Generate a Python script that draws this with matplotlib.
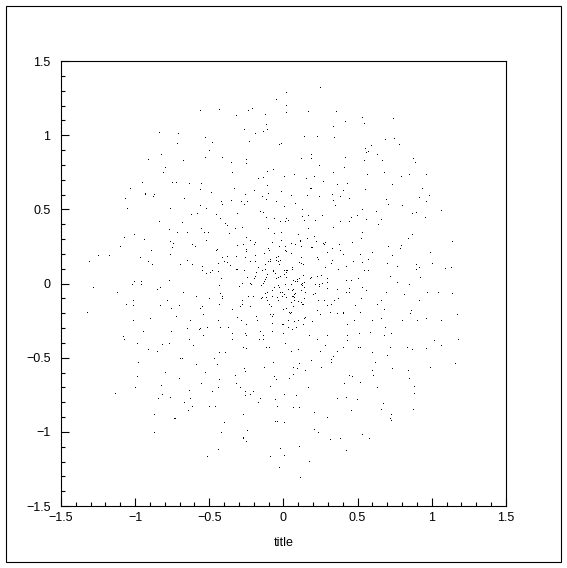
import matplotlib
matplotlib.use("Agg")
import matplotlib.pyplot as plt
from matplotlib.patches import Rectangle
from matplotlib.ticker import FuncFormatter, MultipleLocator

# points, one pair of lists per quadrant
x_upper_left = [-.048,-.561,-.433,-.237,-.210,-.318,-.123,-.116,-.109,-.136,-.264,-.190,-.838,-.710,-.527,-.480,-.716,-.231,-.028,-.015,
    -.500,-.824,-.912,-.676,-.527,-.413,-.352,-.251,-.251,-.797,-.811,-.345,-.109,-.069,-.170,-.136,-.952,-.748,-.723,-.635,
    -.554,-1.033,-.561,-.332,-.197,-.109,-.015,-.487,-.932,-.932,-.871,-.878,-.258,-.102,-.143,-1.067,-.669,-.116,-.352,-.419,
    -.413,-.284,-.244,-.264,-.048,-1.054,-.764,-.561,-.521,-.156,-.136,-.622,-.581,-.453,-.311,-.116,-.062,-.426,-.838,-.683,
    -.021,-.392,-.379,-.554,-.325,-.278,-.102,-.770,-.716,-.649,-.534,-.507,-.365,-.062,-.015,-1.006,-1.074,-.251,-.939,-.224,
    -.521,-.764,-.743,-.190,-.197,-.015,-.075,-.615,-.595,-.311,-.271,-.028,-1.101,-.750,-.892,-.453,-.446,-.251,-.251,-.102,
    -.096,-.129,-.764,-1.249,-1.175,-.966,-.413,-.379,-.318,-.258,-.190,-.048,-.035,-.649,-.399,-.379,-.224,-.190,-.102,-.089,
    -.089,-.048,-.035,-.021,-1.310,-.912,-.885,-.696,-.615,-.440,-.359,-.123,-.028,-.548,-.318,-.311,-.170,-.548,-.480,-.440,
    -.264,-.143,-.123,-.069,-.069,-.521,-.494,-.183,-.109,-.055,-.021,-.035,-.048,-.190,-.197,-.244,-.419,-1.006,-.959,-.770,
    -.129,-.123,-.116]
y_upper_left = [1.236,1.162,1.168,1.162,1.175,1.128,1.135,1.067,1.033,1.020,1.033,1.006,1.013,1.006,.979,.946,.939,.952,.932,.939,
    .892,.865,.831,.824,.844,.844,.811,.831,.804,.777,.743,.743,.750,.764,.703,.710,.676,.676,.676,.669,
    .669,.635,.629,.635,.622,.656,.615,.608,.602,.595,.595,.581,.595,.602,.581,.568,.568,.561,.554,.548,
    .527,.548,.548,.527,.548,.500,.500,.521,.500,.480,.473,.460,.467,.460,.467,.440,.433,.433,.413,.406,
    .413,.399,.386,.365,.365,.372,.365,.359,.338,.338,.338,.338,.332,.332,.338,.325,.305,.305,.291,.284,
    .284,.278,.264,.271,.258,.284,.271,.258,.244,.251,.258,.244,.244,.237,.217,.217,.224,.224,.210,.231,
    .217,.197,.190,.183,.183,.170,.170,.177,.177,.170,.183,.170,.177,.150,.143,.136,.143,.143,.143,.156,
    .143,.150,.143,.150,.143,.143,.123,.123,.123,.129,.116,.123,.123,.109,.089,.089,.102,.082,.082,.075,
    .082,.082,.089,.082,.075,.062,.069,.069,.055,.062,.042,.035,.028,.042,.028,.035,.028,.008,.008,.015,
    .008,.021,.035]

x_upper_right = [.249,.019,.019,.019,.168,.356,.532,.741,.417,.545,.336,.141,.228,.343,.687,.748,.781,.593,.552,.572,
    .559,.633,.188,.188,.120,.417,.545,.667,.876,.889,.242,.410,.336,.566,.680,.795,.849,.964,.006,.073,
    .154,.208,.269,.363,.431,.734,.181,.188,.404,.552,.937,.329,.053,.161,.242,.383,.444,.336,.694,.916,
    .984,.964,.080,.350,.707,.802,.006,.127,.532,.626,.869,.896,1.065,.262,.127,.168,.498,.458,.559,.660,
    .957,.019,.012,.033,.141,.215,.383,.444,.640,.336,.168,.532,.100,.869,.208,.161,.525,.842,.114,.114,
    .222,.053,.080,.269,.282,.275,.464,1.139,.377,.120,.188,.195,.012,.329,.707,.795,.788,.012,.019,.053,
    .383,.296,.404,.599,.991,.518,.734,.120,.228,.235,.572,.329,.323,.471,.532,.107,.120,.134,.701,1.004,
    .896,.282,.424,.768,.916,.896,1.132,1.092,.060,.060,.370,.545,.572,.006,.019,.026,.019,.006,.019,.721,
    .923,.134,.228,.188,.181,.255,.296,.107,.093,.066,.080,.093,.424,.458,.505]
y_upper_right = [1.317,1.283,1.195,1.148,1.155,1.155,1.114,1.108,1.087,1.074,1.054,.986,.986,.979,.966,.973,.932,.925,.905,.885,
    .878,.865,.865,.838,.838,.844,.824,.824,.838,.811,.790,.777,.743,.730,.743,.716,.730,.730,.716,.730,
    .703,.716,.683,.662,.669,.662,.635,.635,.622,.629,.635,.595,.588,.588,.581,.581,.568,.554,.561,.575,
    .588,.548,.534,.521,.527,.521,.514,.494,.494,.480,.467,.473,.487,.453,.446,.453,.453,.440,.426,.426,
    .440,.433,.413,.419,.419,.419,.413,.413,.392,.372,.365,.338,.325,.325,.311,.298,.298,.298,.284,.278,
    .278,.264,.258,.264,.271,.258,.271,.278,.258,.244,.237,.237,.244,.231,.244,.251,.231,.217,.210,.197,
    .217,.204,.190,.204,.204,.190,.183,.170,.170,.156,.156,.150,.129,.143,.136,.136,.129,.123,.129,.129,
    .123,.102,.109,.109,.102,.089,.102,.096,.102,.089,.089,.082,.082,.082,.082,.082,.069,.055,.035,.042,
    .035,.048,.042,.035,.028,.048,.028,.028,.021,.015,.008,.008,.015,.015,.028]

x_lower_left = [-.433,-1.020,-.959,-1.283,-.851,-.831,-.676,-1.121,-.298,-.278,-.224,-.217,-.150,-.136,-.062,-.035,-.028,-.075,-.021,-.008,
    -.109,-.123,-.426,-.413,-.413,-.588,-.500,-.237,-.204,-.784,-1.013,-.278,-.278,-.143,-.150,-.116,-.109,-.075,-.042,-.035,
    -.008,-.433,-1.060,-1.013,-.831,-.703,-.757,-.561,-.548,-.291,-.224,-.096,-.082,-1.323,-.345,-.541,-.723,-.089,-.069,-.075,
    -.183,-.311,-.898,-1.013,-.177,-.440,-.284,-.629,-.075,-.008,-.251,-.426,-.514,-.372,-.649,-.561,-.568,-.156,-.075,-.757,
    -.946,-.345,-.258,-.251,-.541,-1.081,-.136,-1.074,-.635,-.345,-.136,-.163,-.986,-.770,-.817,-.608,-.271,-.116,-.096,-.251,
    -.912,-.851,-.433,-.392,-.696,-.683,-.467,-.979,-.069,-.588,-.446,-.129,-.264,-.258,-.797,-.527,-.325,-.986,-.062,-.703,
    -.048,-.433,-.554,-.318,-.824,-1.000,-.440,-.089,-.291,-.635,-.258,-.204,-.480,-.224,-1.135,-.817,-.258,-.764,-.844,-.629,
    -.156,-.055,-.669,-.170,-.615,-.500,-.460,-.042,-.642,-.871,-.271,-.736,-.730,-.399,-.055,-.042,-.244,-.871,-.419,-.271,
    -.271,-.251,-.440,-.021,-.514,-.089,-.028]
y_lower_left = [-.019,-.012,-.012,-.033,-.046,-.033,-.060,-.066,-.026,-.006,-.001,-.012,-.019,-.001,-.033,-.019,-.033,-.053,-.060,-.060,
    -.066,-.073,-.073,-.093,-.107,-.093,-.107,-.087,-.087,-.114,-.114,-.120,-.141,-.100,-.107,-.100,-.114,-.093,-.100,-.114,
    -.093,-.141,-.147,-.154,-.154,-.154,-.168,-.174,-.161,-.161,-.161,-.147,-.161,-.195,-.181,-.215,-.222,-.215,-.215,-.228,
    -.228,-.235,-.242,-.249,-.249,-.249,-.255,-.255,-.275,-.282,-.282,-.296,-.302,-.302,-.309,-.309,-.316,-.323,-.329,-.329,
    -.329,-.343,-.343,-.350,-.350,-.363,-.356,-.383,-.377,-.377,-.377,-.383,-.410,-.410,-.417,-.424,-.431,-.431,-.431,-.444,
    -.451,-.458,-.471,-.471,-.505,-.505,-.505,-.532,-.532,-.552,-.552,-.572,-.579,-.593,-.606,-.606,-.620,-.633,-.633,-.640,
    -.647,-.653,-.674,-.674,-.687,-.701,-.701,-.694,-.707,-.721,-.728,-.728,-.734,-.748,-.741,-.748,-.761,-.768,-.775,-.775,
    -.775,-.788,-.808,-.808,-.835,-.835,-.829,-.829,-.856,-.883,-.883,-.910,-.916,-.937,-.930,-.930,-.991,-1.004,-1.004,-1.038,
    -1.045,-1.065,-1.119,-1.112,-1.166,-1.166,-1.240]

x_lower_right = [.768,.849,.532,.559,.444,.444,.424,.363,.296,.296,.262,.242,.242,.215,.141,.127,.120,.127,.053,.012,
    .141,.033,.066,.060,.120,.147,.201,.215,.694,.970,1.045,1.139,.815,.080,.073,.060,.066,.073,.006,.019,
    .525,.370,.343,.275,.235,.141,.916,.660,.633,.073,.053,.100,.120,.127,.134,.323,.296,.485,.066,.019,
    -.001,.680,.039,.053,.046,.228,.518,.316,.363,.404,.404,.249,.862,.856,1.173,.660,.478,.147,.141,.100,
    .033,.073,.195,.599,.802,.903,.964,1.065,.134,-.001,.431,.033,.060,.087,.687,-.001,.174,.296,.431,.512,
    .586,.680,.728,.228,.431,1.180,1.018,.012,.282,.404,.505,.518,.721,.835,.869,.964,1.065,.100,.053,.249,
    .363,.599,.336,.701,.323,.323,.188,.107,.620,1.159,.066,.093,.255,.147,.599,.734,.842,.991,.066,.606,
    .444,.464,.039,.849,.518,.410,.883,.168,.633,.883,.006,.087,.424,.363,.498,.674,.066,.107,.660,.876,
    .458,.208,.728,.721,.296,.728,.006,.208,.235,.532,.316,.383,.579,.107,.424,.006,.174,.114]
y_lower_right = [.001,-.012,-.033,-.053,-.039,-.066,-.060,-.046,-.039,.001,-.006,-.012,-.026,-.012,.001,-.006,-.012,-.019,-.012,-.012,
    -.033,-.046,-.046,-.053,-.053,-.066,-.080,-.073,-.060,-.066,-.066,-.073,-.080,-.073,-.080,-.087,-.093,-.100,-.080,-.100,
    -.107,-.107,-.114,-.114,-.114,-.107,-.114,-.120,-.141,-.120,-.134,-.127,-.134,-.141,-.147,-.147,-.154,-.154,-.161,-.168,
    -.181,-.181,-.195,-.195,-.208,-.188,-.195,-.201,-.208,-.195,-.208,-.215,-.188,-.208,-.215,-.242,-.249,-.235,-.242,-.255,
    -.255,-.262,-.262,-.255,-.255,-.255,-.242,-.255,-.282,-.282,-.282,-.302,-.316,-.302,-.302,-.343,-.350,-.356,-.356,-.343,
    -.336,-.350,-.343,-.383,-.390,-.377,-.390,-.404,-.424,-.431,-.437,-.431,-.437,-.431,-.451,-.444,-.424,-.451,-.464,-.458,
    -.464,-.471,-.498,-.491,-.512,-.532,-.525,-.539,-.532,-.545,-.572,-.579,-.572,-.586,-.586,-.579,-.586,-.572,-.613,-.620,
    -.626,-.633,-.640,-.640,-.667,-.674,-.694,-.701,-.707,-.741,-.748,-.755,-.768,-.775,-.788,-.815,-.842,-.842,-.849,-.849,
    -.856,-.869,-.883,-.910,-.903,-.923,-.943,-.984,-1.004,-1.018,-1.052,-1.045,-1.045,-1.099,-1.126,-1.160,-1.200,-1.309]

x_title = "title"
axis_limits = (-1.5, 1.5)

plt.rcParams["font.family"] = ["Liberation Sans", "DejaVu Sans"]


def tick_text(value, _pos):
    # long minus sign like the original labels
    return f"{value:g}".replace("-", "\u2212")


W, H = 567, 568
fig = plt.figure(figsize=(W / 100, H / 100), dpi=100, facecolor="white")
ax = fig.add_axes([60.9 / W, (H - 506.1) / H, 445 / W, 445 / H])

for xs, ys in [(x_upper_left, y_upper_left), (x_upper_right, y_upper_right),
               (x_lower_left, y_lower_left), (x_lower_right, y_lower_right)]:
    ax.plot(xs, ys, ",", color="black")

ax.set_xlim(axis_limits)
ax.set_ylim(axis_limits)

ax.xaxis.set_major_locator(MultipleLocator(0.5))
ax.yaxis.set_major_locator(MultipleLocator(0.5))
ax.xaxis.set_minor_locator(MultipleLocator(0.1))
ax.yaxis.set_minor_locator(MultipleLocator(0.1))
ax.xaxis.set_major_formatter(FuncFormatter(tick_text))
ax.yaxis.set_major_formatter(FuncFormatter(tick_text))

ax.tick_params(which="major", direction="in", length=5.8, width=0.8, labelsize=9)
ax.tick_params(which="minor", direction="in", length=2.9, width=0.8)
ax.tick_params(axis="x", which="major", pad=4)
ax.tick_params(axis="y", which="major", pad=7.5)
for spine in ax.spines.values():
    spine.set_linewidth(0.8)

fig.text(284 / W, 1 - 543.5 / H, x_title, ha="center", va="center", fontsize=9)

# outer frame of the canvas
fig.add_artist(Rectangle((5.9 / W, 1 - 561.9 / H), 555 / W, 556 / H, transform=fig.transFigure,
                         fill=False, edgecolor="black", linewidth=0.8))

plt.savefig("out.png", dpi=100)
plt.close()
